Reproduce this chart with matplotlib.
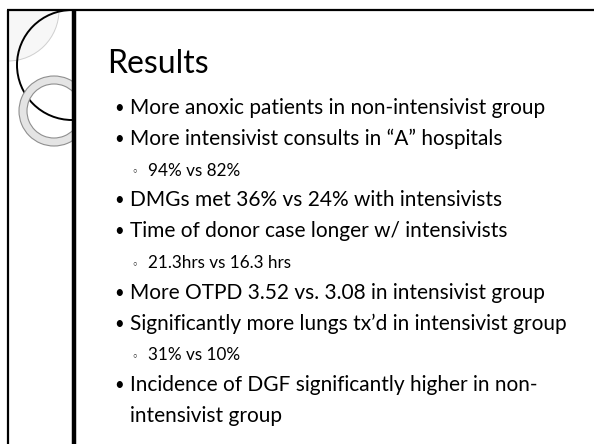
import matplotlib
matplotlib.use("Agg")
import matplotlib.pyplot as plt
from matplotlib.patches import Circle, Wedge, Rectangle

plt.rcParams['font.family'] = ['Lato', 'DejaVu Sans']

title = "Results"
items = [
    "More anoxic patients in non-intensivist group",
    "More intensivist consults in \u201cA\u201d hospitals",
    "94% vs 82%",
    "DMGs met 36% vs 24% with intensivists",
    "Time of donor case longer w/ intensivists",
    "21.3hrs vs 16.3 hrs",
    "More OTPD 3.52 vs. 3.08 in intensivist group",
    "Significantly more lungs tx\u2019d in intensivist group",
    "31% vs 10%",
    "Incidence of DGF significantly higher in non-",
    "intensivist group",
]
levels = [1, 1, 2, 1, 1, 2, 1, 1, 2, 1, 0]   # 0 = wrapped continuation line

W, H = 594, 444
fig = plt.figure(figsize=(W / 100, H / 100), dpi=100)
ax = fig.add_axes([0, 0, 1, 1])
ax.set_xlim(0, W)
ax.set_ylim(H, 0)
ax.axis('off')

# left decoration panel
clip = Rectangle((8, 10), 65, H, transform=ax.transData)
faint = Circle((8, 10), 51, facecolor='#f7f7f7', edgecolor='#cfcfcf', lw=0.7, zorder=1)
big = Circle((72, 65), 55, facecolor='none', edgecolor='black', lw=1.4, zorder=2)
ring = Wedge((54, 111), 35, 0, 360, width=8, facecolor='#e4e4e4', edgecolor='#8f8f8f', lw=0.8, zorder=3)
for p in (faint, big, ring):
    ax.add_patch(p)
    p.set_clip_path(clip)

# frame lines
ax.plot([7, W], [10, 10], color='black', lw=1.6, solid_capstyle='butt', zorder=5)
ax.plot([8, 8], [10, H], color='black', lw=1.6, solid_capstyle='butt', zorder=5)
ax.plot([74, 74], [10, H], color='black', lw=3.2, solid_capstyle='butt', zorder=5)

ax.text(107, 73, title, fontsize=23, va='baseline', ha='left', color='black')

y = 114
for txt, lv in zip(items, levels):
    if lv == 1:
        ax.text(114, y - 1, "\u2022", fontsize=12, va='baseline', ha='left')
        ax.text(130, y, txt, fontsize=15, va='baseline', ha='left')
    elif lv == 2:
        ax.text(131, y, "\u25e6", fontsize=8, va='baseline', ha='left', family=['DejaVu Sans'])
        ax.text(148, y, txt, fontsize=12.3, va='baseline', ha='left')
    else:
        ax.text(130, y, txt, fontsize=15, va='baseline', ha='left')
    y += 30.8

fig.savefig("out.png", dpi=100)
